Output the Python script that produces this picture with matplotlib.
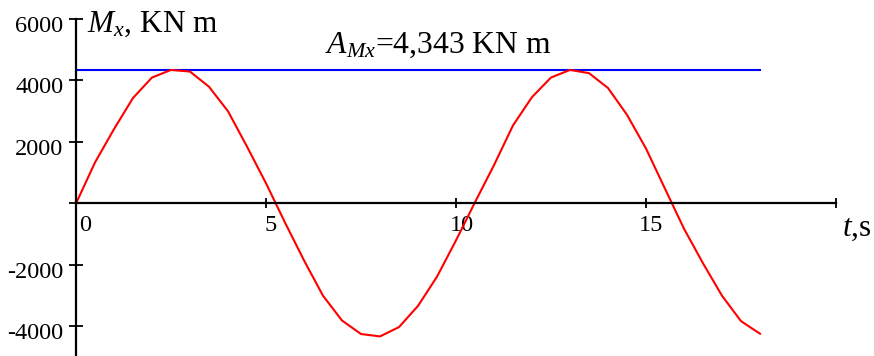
import matplotlib
matplotlib.use("Agg")
import matplotlib.pyplot as plt
import matplotlib.transforms as mtransforms

plt.rcParams["font.family"] = ["Liberation Serif", "DejaVu Serif"]
plt.rcParams["mathtext.fontset"] = "custom"
plt.rcParams["mathtext.rm"] = "Liberation Serif"
plt.rcParams["mathtext.it"] = "Liberation Serif:italic"

# bending moment over time, sampled every 0.5 s
t = [0, 0.5, 1.0, 1.5, 2.0, 2.5, 3.0, 3.5, 4.0, 4.5, 5.0, 5.5, 6.0, 6.5,
     7.0, 7.5, 8.0, 8.5, 9.0, 9.5, 10.0, 10.5, 11.0, 11.5, 12.0, 12.5,
     13.0, 13.5, 14.0, 14.5, 15.0, 15.5, 16.0, 16.5, 17.0, 17.5, 18.0]
Mx = [0, 1335, 2420, 3432, 4097, 4343, 4290, 3797, 3000, 1850, 658, -620,
      -1850, -3000, -3806, -4245, -4323, -4020, -3330, -2380, -1200, 40,
      1248, 2539, 3460, 4097, 4343, 4239, 3755, 2884, 1787, 480, -820,
      -1945, -3000, -3826, -4235]
amplitude = 4343
t_end = 18

xticks = [0, 5, 10, 15, 20]
xlabels = ["0", "5", "10", "15", ""]
yticks = [-4000, -2000, 0, 2000, 4000, 6000]
ylabels = ["-4000", "-2000", "", "2000", "4000", "6000"]

W, H = 874, 356
fig = plt.figure(figsize=(W / 100, H / 100), dpi=100)
ax = fig.add_axes([76 / W, 0, (836 - 76) / W, (H - 19) / H])
ax.set_xlim(0, 20)
ax.set_ylim(-4960, 6000)

ax.plot([0, t_end], [amplitude, amplitude], color="blue", lw=1.5)
ax.plot(t, Mx, color="red", lw=1.5)

for side in ["top", "right"]:
    ax.spines[side].set_visible(False)
ax.spines["left"].set_position(("data", 0))
ax.spines["bottom"].set_position(("data", 0))
for side in ["left", "bottom"]:
    ax.spines[side].set_linewidth(1.6)

ax.set_xticks(xticks, xlabels)
ax.set_yticks(yticks, ylabels)
ax.tick_params(axis="x", direction="inout", length=6.5, width=1.3, pad=5,
               labelsize=17.5)
ax.tick_params(axis="y", direction="inout", length=10, width=1.3, pad=4,
               labelsize=17.5)

# Maple-like label placement
x_shift = [9, 4.5, 5.5, 5, 0]
for lab, dx in zip(ax.get_xticklabels(), x_shift):
    lab.set_transform(lab.get_transform() +
                      mtransforms.ScaledTranslation(dx / 100, 0, fig.dpi_scale_trans))
for lab in ax.get_yticklabels():
    lab.set_transform(lab.get_transform() +
                      mtransforms.ScaledTranslation(0, -5 / 100, fig.dpi_scale_trans))

fig.text(87 / W, 1 - 32 / H, "$M_x$, KN m", fontsize=22.5, va="baseline")
fig.text(842 / W, 1 - 236 / H, "$t$,s", fontsize=22.5, va="baseline")
ax.text(6.55, 4894, "$A_{Mx}$=4,343 KN m", fontsize=22.8, va="baseline")

fig.savefig("out.png", dpi=100)
